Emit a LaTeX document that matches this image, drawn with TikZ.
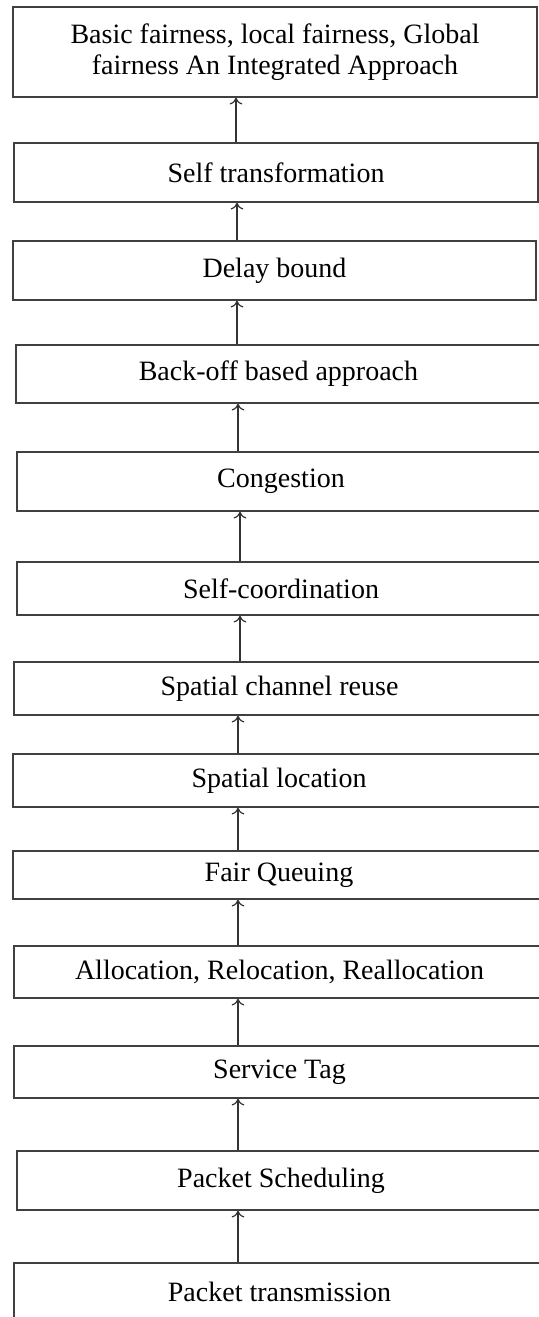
\documentclass[tikz,border=0pt]{standalone}
\usepackage{fontspec}
\setmainfont{Liberation Serif}
\usetikzlibrary{arrows.meta}
\tikzset{stage/.style = {draw = black!75, line width = 0.65pt, rectangle, inner sep = 0,
                         align = center, font = \fontsize{14}{15.5}\selectfont}}
\tikzset{up/.style = {-{To[length = 3.4pt, width = 6.4pt]}, draw = black!80, line width = 0.6pt}}

\begin{document}
\begin{tikzpicture}[x = 0.5pt, y = -0.5pt]
	\useasboundingbox (0,0) rectangle (539,1317);
	\clip (0,0) rectangle (539,1317);
	\node [stage, minimum width = 262pt, minimum height = 45pt]   (top)  at (275,52)      {Basic fairness, local fairness, Global\\fairness An Integrated Approach};
	\node [stage, minimum width = 262pt, minimum height = 29.5pt] (st)   at (276,172.5)   {Self transformation};
	\node [stage, minimum width = 261.5pt, minimum height = 29.5pt] (db) at (274.5,270.5) {Delay bound};
	\node [stage, minimum width = 262.5pt, minimum height = 29pt] (bo)   at (278.5,374)   {Back-off based approach};
	\node [stage, minimum width = 264pt, minimum height = 29.5pt] (cg)   at (281,481.5)   {Congestion};
	\node [stage, minimum width = 264pt, minimum height = 26.5pt] (sc)   at (281,588.5)   {Self-coordination};
	\node [stage, minimum width = 265.5pt, minimum height = 26.5pt] (scr) at (279.5,688.5) {Spatial channel reuse};
	\node [stage, minimum width = 266pt, minimum height = 26.5pt] (sl)   at (279,780.5)   {Spatial location};
	\node [stage, minimum width = 266pt, minimum height = 24pt]   (fq)   at (279,875)     {Fair Queuing};
	\node [stage, minimum width = 265.5pt, minimum height = 26pt] (al)   at (279.5,972)   {Allocation, Relocation, Reallocation};
	\node [stage, minimum width = 265.5pt, minimum height = 26pt] (stag) at (279.5,1072)  {Service Tag};
	\node [stage, minimum width = 264pt, minimum height = 29.5pt] (ps)   at (281,1180.5)  {Packet Scheduling};
	\node [stage, minimum width = 265.5pt, minimum height = 28.5pt] (pt) at (279.5,1291.5) {Packet transmission};
	% arrows, bottom to top
	\foreach \a/\b/\x in {st/top/236, db/st/237, bo/db/237, cg/bo/238, sc/cg/240, scr/sc/240,
	                      sl/scr/238, fq/sl/238, al/fq/238, stag/al/238, ps/stag/238, pt/ps/238}
	{
		\coordinate (ax) at (\x,0);
		\draw [up] (\a.north -| ax) -- (\b.south -| ax);
	}
\end{tikzpicture}
\end{document}
